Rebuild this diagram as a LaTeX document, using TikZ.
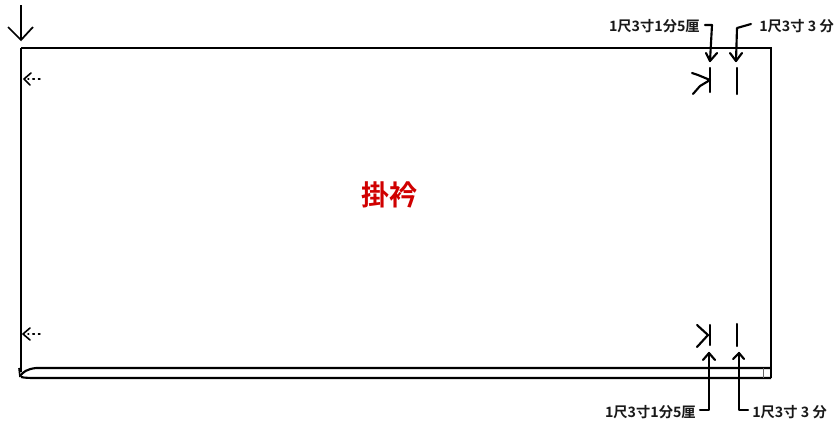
\documentclass[tikz,border=0pt]{standalone}
\usepackage{fontspec}
\newfontfamily\cjk{Noto Sans CJK JP}[BoldFont={Noto Sans CJK JP Bold}]
\definecolor{titlered}{RGB}{208,0,0}
\tikzset{
  garment/.style={line width=1.8pt,line join=miter},
  handline/.style={line width=1.6pt,line cap=round,line join=round},
  sizelabel/.style={font=\cjk\bfseries\fontsize{10.7}{13}\selectfont,inner sep=0pt,text=black!90},
  dottedfold/.style={line width=1.1pt,line cap=round,dash pattern=on 1.2pt off 3pt},
}
\begin{document}
\begin{tikzpicture}[x=0.75pt,y=-0.75pt]
\useasboundingbox (0,0) rectangle (838,422);
% body
\coordinate (tl) at (21,48);
\coordinate (tr) at (771,48);
\coordinate (br) at (771,378);
\coordinate (bl) at (21,377);
\draw[garment] (tl) -- (tr) -- (br);
\draw[garment] (tl) -- (21,372);
\draw[line width=1.6pt] (20,376) .. controls (23,372) and (27,369) .. (36,368) -- (771,368);
\draw[line width=1.6pt] (bl) .. controls (25,378) and (30,378) .. (40,378) -- (br);
\draw[line width=1.2pt] (19,368) -- (20,377);
\draw[line width=0.5pt,black!60] (763,368) -- (763,378);
% title
\node[font=\cjk\bfseries\fontsize{21}{25}\selectfont,text=titlered,inner sep=0pt] (title) at (389,195) {掛衿};
% start arrow
\coordinate (startA) at (21,5);
\coordinate (startB) at (21,40);
\draw[line width=1.3pt] (startA) -- (startB);
\draw[line width=1.3pt] (8,27) -- (startB) -- (33,27);
% left fold arrows
\coordinate (foldTa) at (40,79);
\coordinate (foldTb) at (24,79);
\draw[dottedfold] (foldTa) -- (28,79);
\draw[handline,line width=1.2pt] (31,73) -- (foldTb) -- (30,85);
\coordinate (foldBa) at (40,334);
\coordinate (foldBb) at (23,334);
\draw[dottedfold] (foldBa) -- (28,334);
\draw[handline,line width=1.2pt] (30,328) -- (foldBb) -- (30,340);
% top-right labels
\node[sizelabel,anchor=east] (labTa) at (700,26) {1尺3寸1分5厘};
\node[sizelabel,anchor=west] (labTb) at (759,26) {1尺3寸 3 分};
\coordinate (tipTa) at (710,61);
\coordinate (tipTb) at (736,61);
\draw[handline] (labTa.east) ++(5,-1) -- (712,25) -- (tipTa);
\draw[handline] (706,53) -- (tipTa) -- (717,53);
\draw[handline] (labTb.west) ++(-8,-2) -- (737,28) -- (tipTb);
\draw[handline] (730,53) -- (tipTb) -- (742,53);
% top-right marks
\draw[handline] (710,68) -- (710,92);
\draw[handline] (692,73) -- (698,75) -- (710,80) -- (700,86) -- (693,94);
\draw[handline] (737,68) -- (737,94);
% bottom-right marks
\draw[handline] (710,325) -- (710,345);
\draw[handline] (697,325) -- (708,335) -- (697,347);
\draw[handline] (737,324) -- (737,346);
% bottom-right labels
\node[sizelabel,anchor=east] (labBa) at (696,412) {1尺3寸1分5厘};
\node[sizelabel,anchor=west] (labBb) at (752,412) {1尺3寸 3 分};
\coordinate (tipBa) at (709,353);
\coordinate (tipBb) at (739,353);
\draw[handline] (labBa.east) ++(4,-2) -- (709,410) -- (tipBa);
\draw[handline] (703,360) -- (tipBa) -- (715,360);
\draw[handline] (labBb.west) ++(-4,-2) -- (739,410) -- (tipBb);
\draw[handline] (733,359) -- (tipBb) -- (744,359);
\end{tikzpicture}
\end{document}
